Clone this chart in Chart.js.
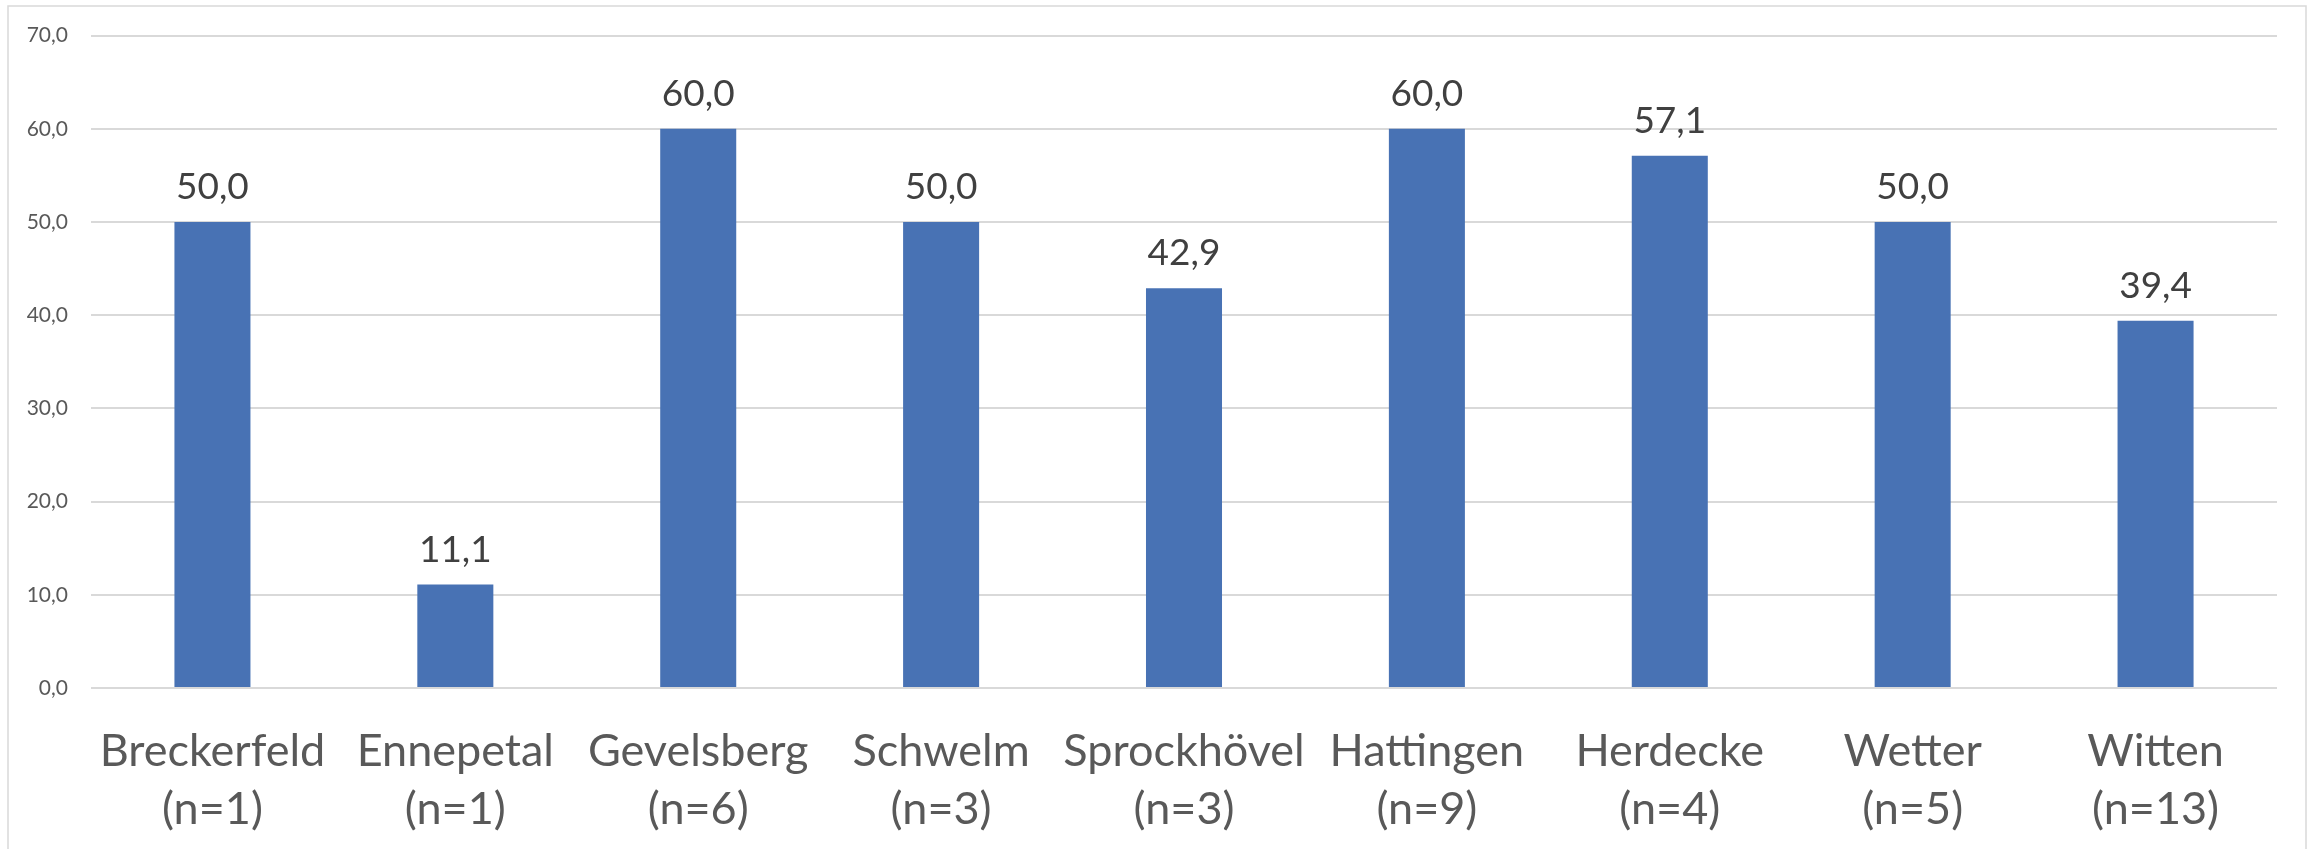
<!DOCTYPE html>
<html>
<head>
<meta charset="utf-8">
<script src="https://cdn.jsdelivr.net/npm/chart.js@4/dist/chart.umd.min.js"></script>
<style>
  html, body { margin: 0; padding: 0; background: #ffffff; }
  #wrap { width: 2313px; height: 849px; position: relative; }
</style>
</head>
<body>
<div id="wrap"><canvas id="c" width="2313" height="849"></canvas></div>
<script>
const categories = ["Breckerfeld", "Ennepetal", "Gevelsberg", "Schwelm", "Sprockhövel", "Hattingen", "Herdecke", "Wetter", "Witten"];
const sampleSizes = ["(n=1)", "(n=1)", "(n=6)", "(n=3)", "(n=3)", "(n=9)", "(n=4)", "(n=5)", "(n=13)"];
const values = [50.0, 11.1, 60.0, 50.0, 42.9, 60.0, 57.1, 50.0, 39.4];
const yMin = 0, yMax = 70, yStep = 10;

const fmt = v => Number(v).toFixed(1).replace('.', ',');
const FONT = "Lato, 'Open Sans', 'Liberation Sans', sans-serif";

const frame = {
  id: 'frame',
  beforeDraw(chart) {
    const ctx = chart.ctx;
    ctx.save();
    ctx.fillStyle = '#ffffff';
    ctx.fillRect(0, 0, chart.width, chart.height);
    ctx.strokeStyle = '#D9D9D9';
    ctx.lineWidth = 1.5;
    ctx.strokeRect(8, 6, 2298, 900);
    ctx.restore();
  }
};

const valueLabels = {
  id: 'valueLabels',
  afterDatasetsDraw(chart) {
    const ctx = chart.ctx;
    const meta = chart.getDatasetMeta(0);
    ctx.save();
    ctx.font = "37px " + FONT;
    ctx.fillStyle = '#404040';
    ctx.textAlign = 'center';
    ctx.textBaseline = 'alphabetic';
    meta.data.forEach((bar, i) => {
      ctx.fillText(fmt(chart.data.datasets[0].data[i]), bar.x, bar.y - 23);
    });
    ctx.restore();
  }
};

new Chart(document.getElementById('c'), {
  type: 'bar',
  data: {
    labels: categories.map((c, i) => [c, sampleSizes[i]]),
    datasets: [{
      data: values,
      backgroundColor: '#4872B4',
      borderWidth: 0,
      barPercentage: 0.313,
      categoryPercentage: 1.0
    }]
  },
  options: {
    responsive: false,
    animation: false,
    devicePixelRatio: 1,
    layout: { padding: { left: 0, right: 36, top: 35, bottom: 0 } },
    plugins: { legend: { display: false }, tooltip: { enabled: false } },
    scales: {
      x: {
        grid: { display: false, drawTicks: false },
        border: { display: false },
        ticks: {
          color: '#595959',
          font: { family: FONT, size: 45, lineHeight: 1.3 },
          padding: 34,
          maxRotation: 0,
          autoSkip: false
        },
        afterFit(scale) { scale.height = 849 - 688; }
      },
      y: {
        min: yMin, max: yMax,
        grid: { color: '#D9D9D9', lineWidth: 2, drawTicks: false },
        border: { display: false },
        ticks: {
          stepSize: yStep,
          color: '#595959',
          font: { family: FONT, size: 21 },
          padding: 23,
          callback: v => fmt(v)
        },
        afterFit(scale) { scale.width = 91; }
      }
    }
  },
  plugins: [frame, valueLabels]
});
</script>
</body>
</html>
